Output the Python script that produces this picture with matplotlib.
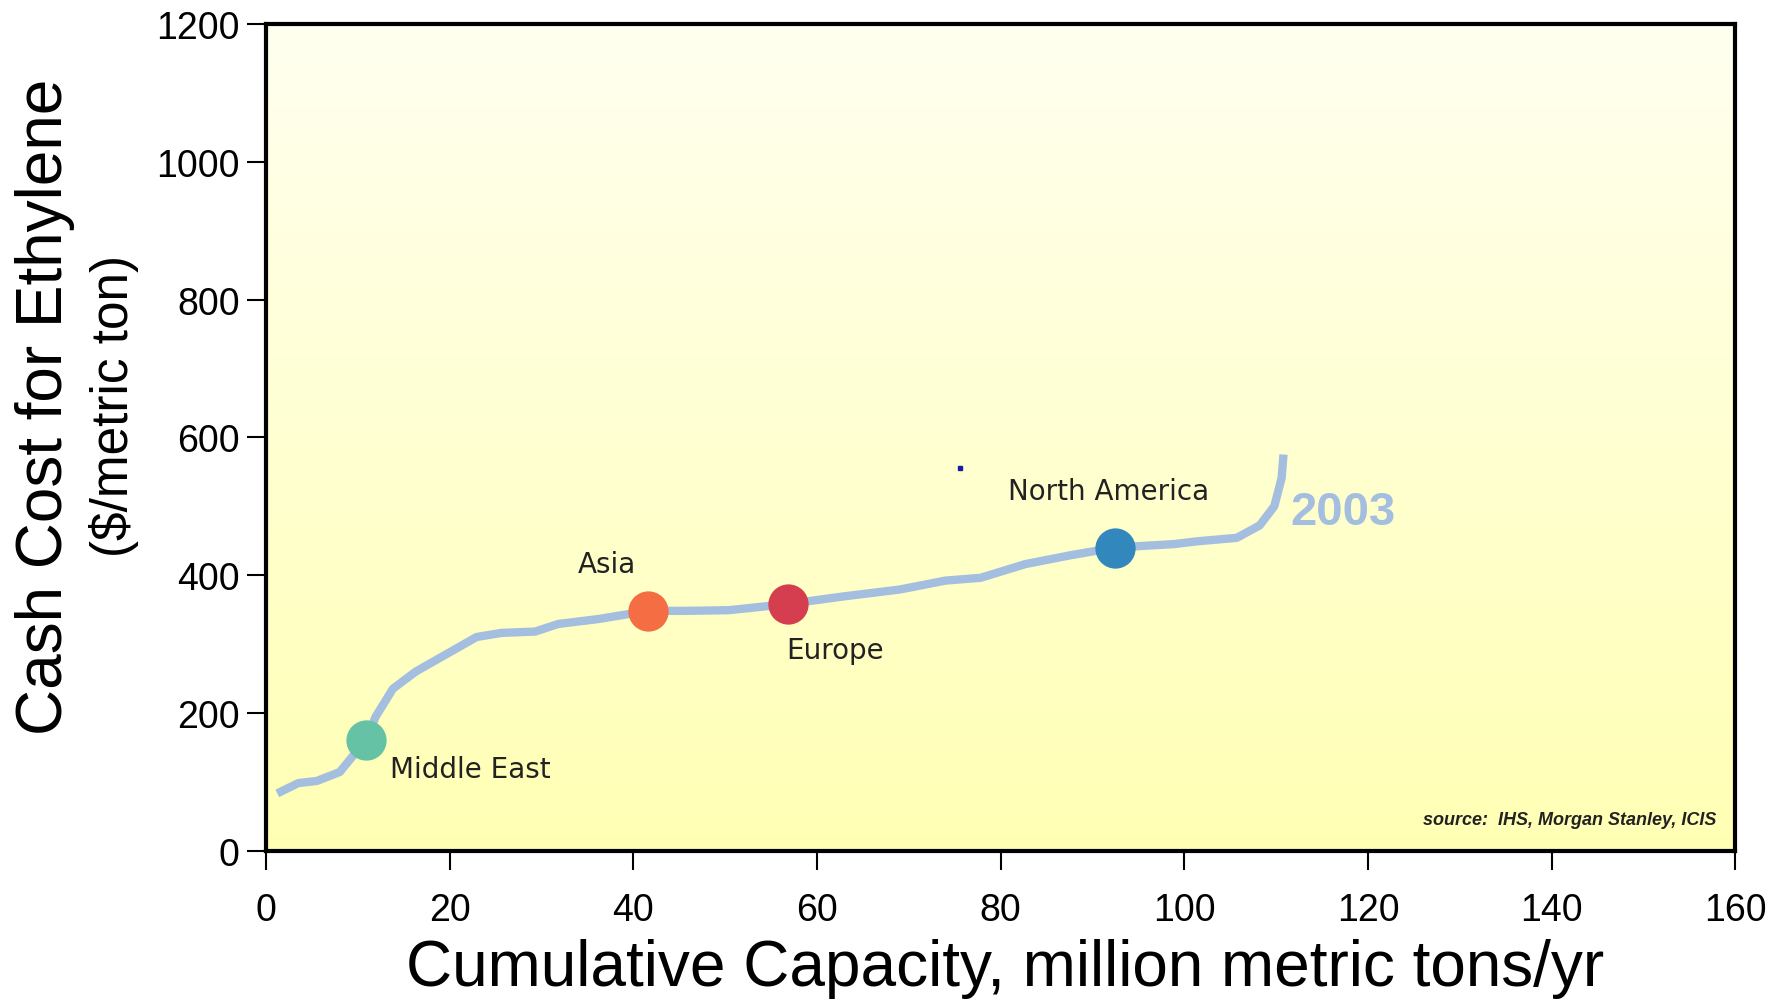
import numpy as np
import matplotlib.pyplot as plt
from matplotlib.colors import LinearSegmentedColormap

plt.rcParams['font.family'] = ['Liberation Sans', 'DejaVu Sans']

# Courbe de coût 2003
capacity = [1.2, 3.5, 5.5, 8.0, 10.9, 11.9, 13.8, 16.3, 20.0, 22.9, 25.6, 29.3,
            31.8, 36.1, 41.6, 45.5, 50.4, 56.8, 62.9, 69.0, 74.0, 77.8, 82.7,
            87.7, 92.5, 98.9, 101.4, 105.7, 108.2, 109.8, 110.6, 110.8]
cost = [83, 98, 101, 114, 161, 194, 235, 260, 288, 310, 316, 318,
        329, 336, 348, 348, 349, 358, 369, 379, 392, 396, 416,
        429, 440, 445, 449, 454, 472, 500, 541, 575]

regions = ['Middle East', 'Asia', 'Europe', 'North America']
region_x = [10.9, 41.6, 56.8, 92.5]
region_y = [161, 348, 358, 440]
region_colors = ['#66C2A5', '#F46D43', '#D53E4F', '#3288BD']
label_x = [13.5, 37.1, 62.0, 91.8]
label_y = [118, 416, 291, 522]
label_ha = ['left', 'center', 'center', 'center']

fig = plt.figure(figsize=(17.87, 10.03), dpi=100)
ax = fig.add_axes([0.149, 0.151, 0.822, 0.824])

# fond dégradé
cmap = LinearSegmentedColormap.from_list('bg', ['#FFFFB4', '#FFFFF0'])
grad = np.linspace(0, 1, 256).reshape(-1, 1)
ax.imshow(grad, extent=[0, 160, 0, 1200], origin='lower', aspect='auto',
          cmap=cmap, zorder=0)

ax.plot(capacity, cost, color='#A4BEE0', lw=6, solid_capstyle='butt',
        solid_joinstyle='round', zorder=2)
for x, y, c in zip(region_x, region_y, region_colors):
    ax.plot(x, y, 'o', ms=29, color=c, mec='none', zorder=3)
for name, x, y, ha in zip(regions, label_x, label_y, label_ha):
    ax.text(x, y, name, fontsize=20, ha=ha, va='center', color='#222222',
            family=['DejaVu Sans'], zorder=4)

ax.text(117.3, 492, '2003', fontsize=34, fontweight='bold', color='#A4BEE0',
        ha='center', va='center', zorder=4)
ax.plot(75.6, 556, 's', ms=2.5, color='#1020A0', zorder=4)
ax.text(157.9, 45, 'source:  IHS, Morgan Stanley, ICIS', fontsize=13,
        style='italic', fontweight='bold', ha='right', va='center', color='#222222')

ax.set_xlim(0, 160)
ax.set_ylim(0, 1200)
ax.set_xticks(range(0, 161, 20))
ax.set_yticks(range(0, 1201, 200))
ax.tick_params(direction='out', length=14, width=1.5, labelsize=27)
ax.tick_params(axis='x', pad=16)
ax.tick_params(axis='y', pad=5)
for s in ax.spines.values():
    s.set_linewidth(3)

fig.text(0.5625, 0.034, 'Cumulative Capacity, million metric tons/yr',
         fontsize=46, ha='center', va='center')
fig.text(0.025, 0.594, 'Cash Cost for Ethylene', rotation=90, fontsize=46,
         ha='center', va='center')
fig.text(0.064, 0.595, '($/metric ton)', rotation=90, fontsize=37,
         ha='center', va='center')

fig.savefig('out.png', dpi=100)
